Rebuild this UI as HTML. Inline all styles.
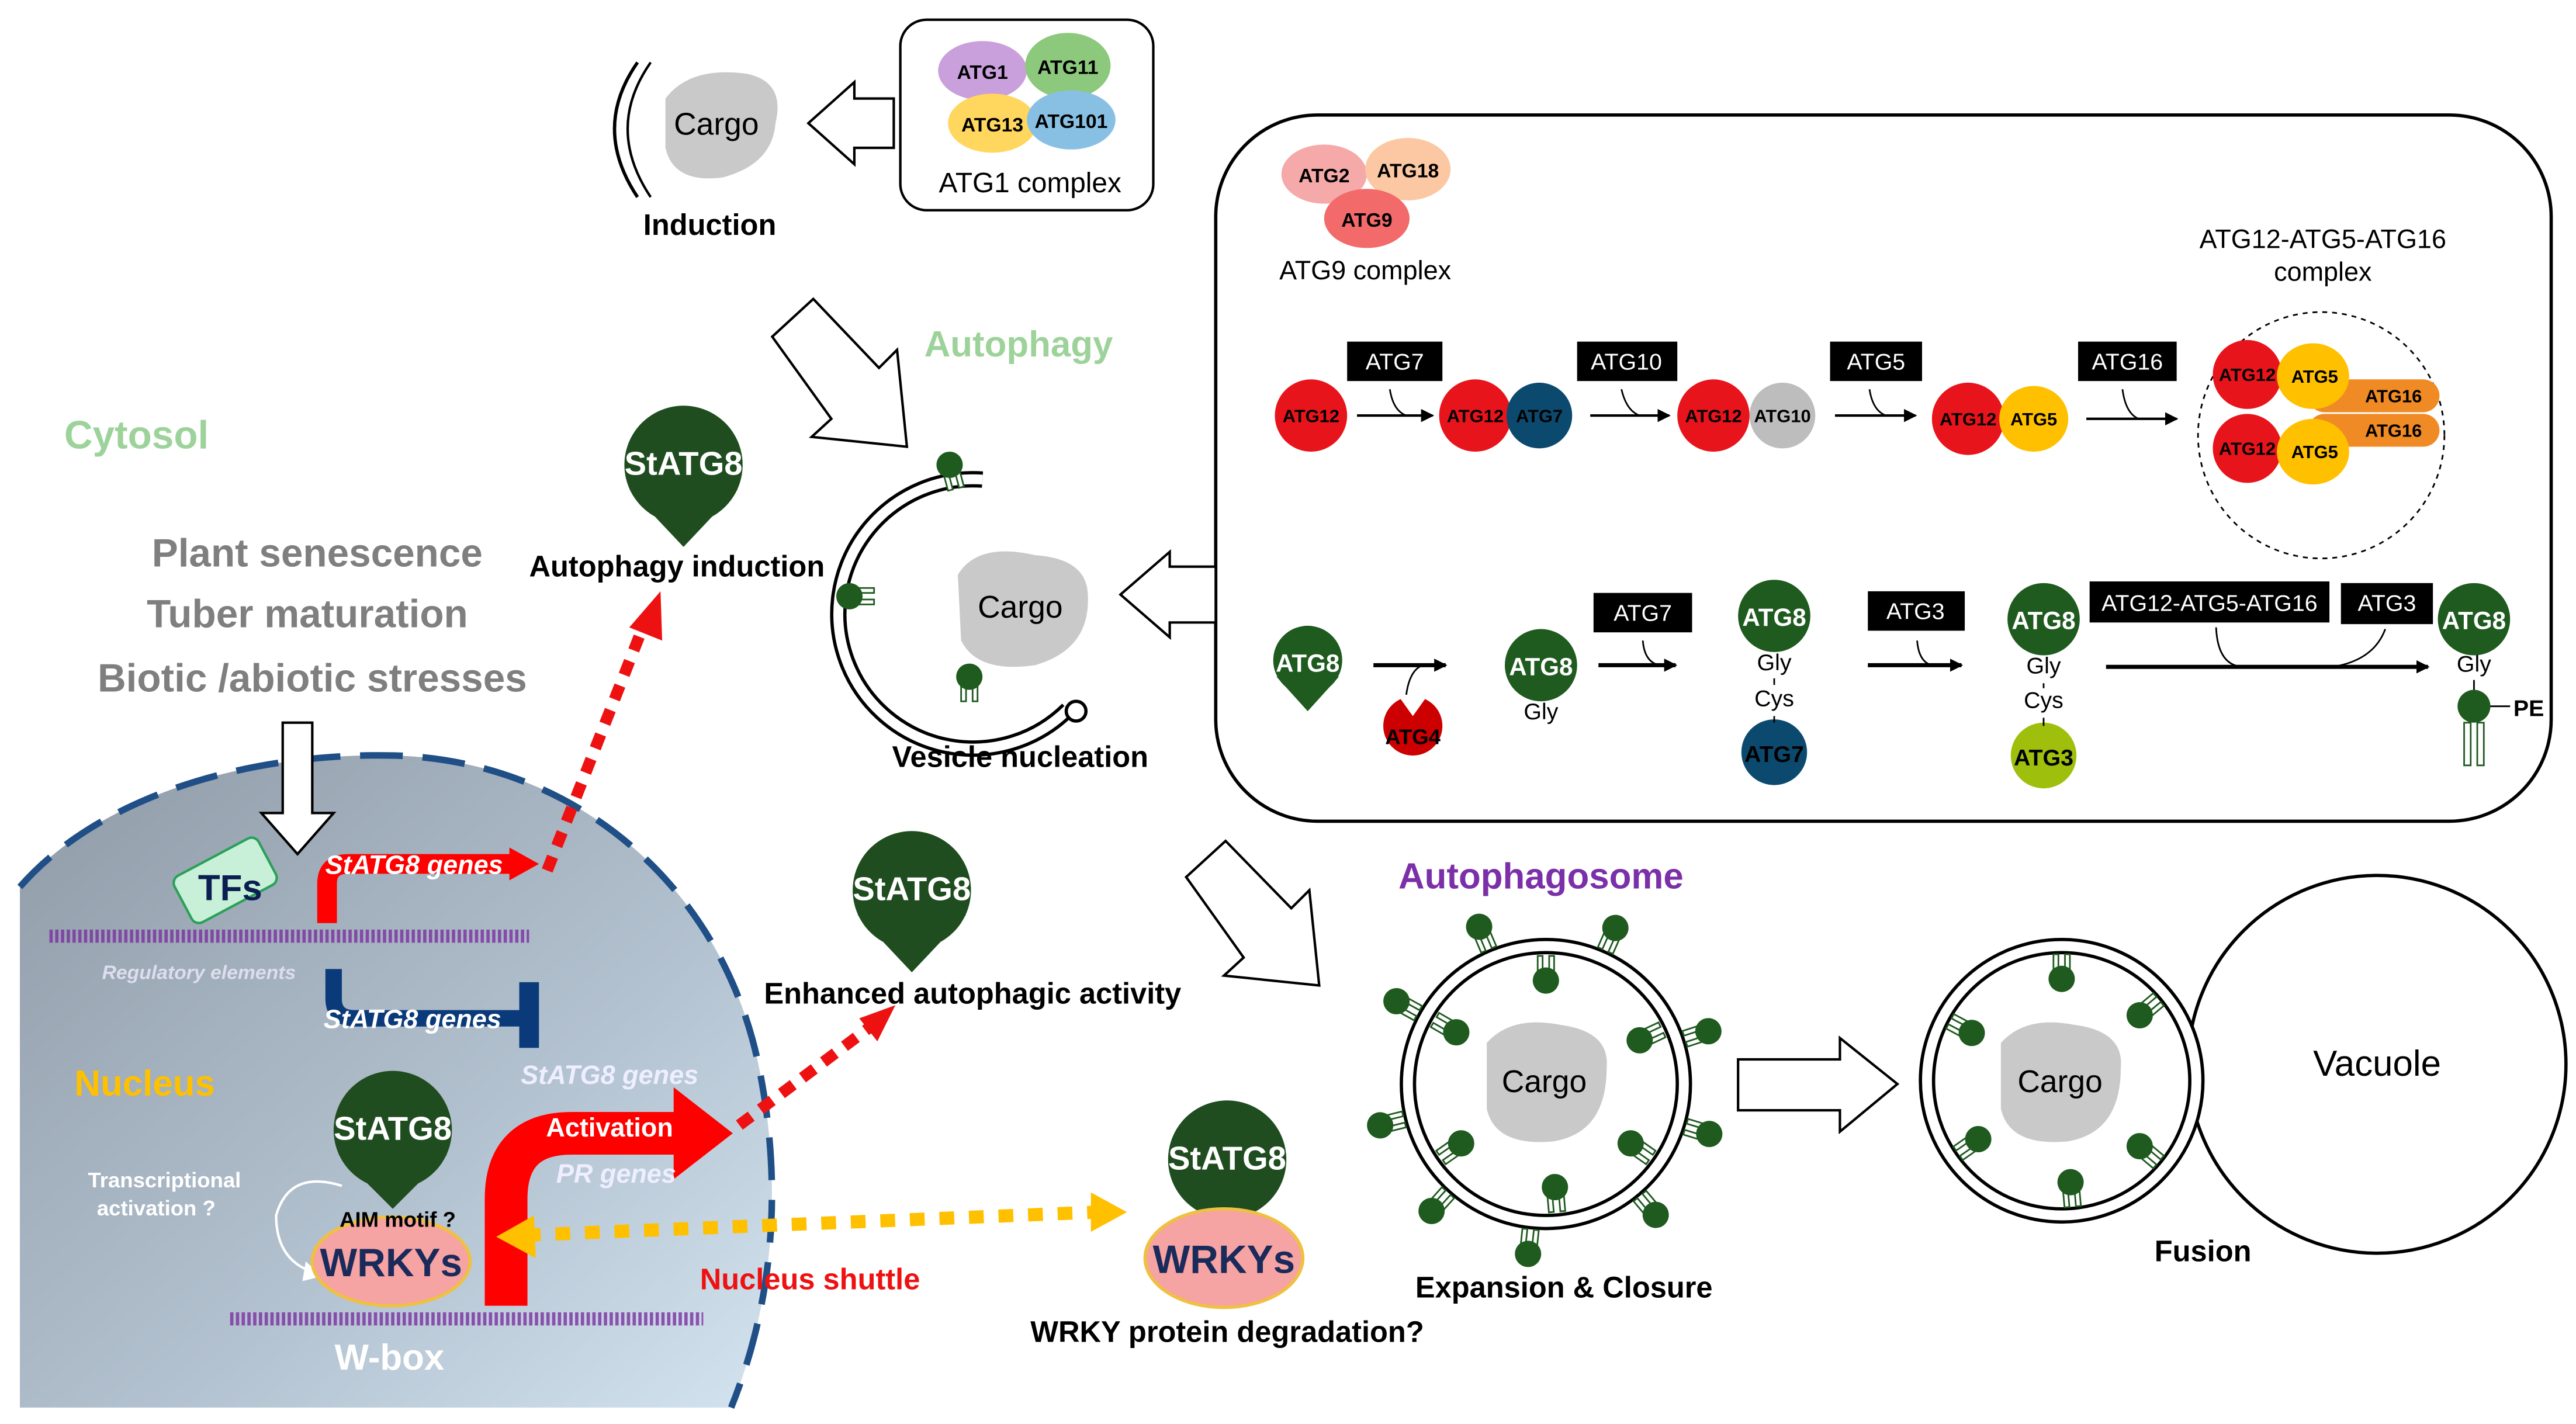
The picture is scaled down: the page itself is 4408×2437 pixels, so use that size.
<!DOCTYPE html>
<html><head><meta charset="utf-8"><style>
html,body{margin:0;padding:0;background:#fff;width:4408px;height:2437px;overflow:hidden;}
svg{display:block;}
text{font-family:"Liberation Sans",Arial,sans-serif;}
</style></head><body>
<svg width="4408" height="2437" viewBox="0 0 1568 867" xmlns="http://www.w3.org/2000/svg">
<defs>
<linearGradient id="ng" x1="0" y1="0" x2="1" y2="1">
<stop offset="0" stop-color="#8f9aa6"/><stop offset="0.6" stop-color="#b3c2d0"/><stop offset="1" stop-color="#d3e3ef"/>
</linearGradient>
<g id="tag"><rect x="-5" y="6" width="3" height="9" fill="#fff" stroke="#1e5a1e" stroke-width="1"/><rect x="2" y="6" width="3" height="9" fill="#fff" stroke="#1e5a1e" stroke-width="1"/><circle cx="0" cy="0" r="8" fill="#1f5a1f"/></g>
<marker id="ah" markerWidth="8" markerHeight="8" refX="7" refY="4" orient="auto" markerUnits="userSpaceOnUse"><path d="M0,0 L8,4 L0,8 z" fill="#000"/></marker>
</defs>

<!-- Nucleus -->
<path d="M12,857 L12,540 C60,485 150,458 240,460 C350,463 440,540 462,650 C478,730 468,800 445,857 Z" fill="url(#ng)"/>
<path d="M12,540 C60,485 150,458 240,460 C350,463 440,540 462,650 C478,730 468,800 445,857" fill="none" stroke="#1f4f86" stroke-width="4" stroke-dasharray="26,12"/>

<!-- top cargo -->
<path d="M388,38 Q360,78 388,120" fill="none" stroke="#000" stroke-width="2"/>
<path d="M396,38 Q368,78 396,120" fill="none" stroke="#000" stroke-width="1.5"/>
<path d="M405,60 Q420,40 455,45 Q478,50 472,75 Q470,100 440,108 Q410,112 405,90 Z" fill="#c9c9c9"/>
<text x="436" y="82" font-size="19" text-anchor="middle">Cargo</text>
<text x="432" y="143" font-size="18" font-weight="bold" text-anchor="middle">Induction</text>
<path d="M544,60 L520,60 L520,50 L492,75 L520,100 L520,90 L544,90 Z" fill="#fff" stroke="#000" stroke-width="1.5"/>

<!-- ATG1 complex -->
<rect x="548" y="12" width="154" height="116" rx="16" fill="#fff" stroke="#000" stroke-width="1.5"/>
<ellipse cx="598" cy="43" rx="27" ry="18" fill="#c9a0dc"/>
<ellipse cx="650" cy="40" rx="26" ry="20" fill="#8cc97c"/>
<ellipse cx="604" cy="75" rx="27" ry="18" fill="#ffd75e"/>
<ellipse cx="652" cy="73" rx="27" ry="18" fill="#88c0e4"/>
<text x="598" y="48" font-size="12" font-weight="bold" text-anchor="middle">ATG1</text>
<text x="650" y="45" font-size="12" font-weight="bold" text-anchor="middle">ATG11</text>
<text x="604" y="80" font-size="12" font-weight="bold" text-anchor="middle">ATG13</text>
<text x="652" y="78" font-size="12" font-weight="bold" text-anchor="middle">ATG101</text>
<text x="627" y="117" font-size="17" text-anchor="middle">ATG1 complex</text>

<!-- big box -->
<rect x="740" y="70" width="813" height="430" rx="62" fill="#fff" stroke="#000" stroke-width="2"/>
<ellipse cx="806" cy="106" rx="26" ry="18" fill="#f5a9a9"/>
<ellipse cx="857" cy="103" rx="26" ry="19" fill="#fcc8a4"/>
<ellipse cx="832" cy="133" rx="26" ry="18" fill="#f26a6a"/>
<text x="806" y="111" font-size="12" font-weight="bold" text-anchor="middle">ATG2</text>
<text x="857" y="108" font-size="12" font-weight="bold" text-anchor="middle">ATG18</text>
<text x="832" y="138" font-size="12" font-weight="bold" text-anchor="middle">ATG9</text>
<text x="831" y="170" font-size="16" text-anchor="middle">ATG9 complex</text>
<text x="1414" y="151" font-size="16" text-anchor="middle">ATG12-ATG5-ATG16</text>
<text x="1414" y="171" font-size="16" text-anchor="middle">complex</text>

<!-- row 1 -->
<g font-size="11" font-weight="bold" text-anchor="middle">
<circle cx="798" cy="253" r="22" fill="#e8141b"/><text x="798" y="257">ATG12</text>
<circle cx="898" cy="253" r="22" fill="#e8141b"/><circle cx="937" cy="253" r="20" fill="#0b4a6e"/>
<text x="898" y="257">ATG12</text><text x="937" y="257">ATG7</text>
<circle cx="1043" cy="253" r="22" fill="#e8141b"/><circle cx="1085" cy="253" r="20" fill="#bdbdbd"/>
<text x="1043" y="257">ATG12</text><text x="1085" y="257">ATG10</text>
<circle cx="1198" cy="255" r="22" fill="#e8141b"/><ellipse cx="1238" cy="255" rx="21" ry="20" fill="#ffc000"/>
<text x="1198" y="259">ATG12</text><text x="1238" y="259">ATG5</text>
</g>
<g fill="#000"><rect x="820" y="208" width="58" height="24"/><rect x="960" y="208" width="61" height="24"/><rect x="1114" y="208" width="56" height="24"/><rect x="1265" y="208" width="60" height="24"/></g>
<g fill="#fff" font-size="14" text-anchor="middle"><text x="849" y="225">ATG7</text><text x="990" y="225">ATG10</text><text x="1142" y="225">ATG5</text><text x="1295" y="225">ATG16</text></g>
<g stroke="#000" stroke-width="1.5" fill="none" marker-end="url(#ah)">
<path d="M826,253 L872,253"/><path d="M968,253 L1016,253"/><path d="M1117,253 L1166,253"/><path d="M1270,255 L1325,255"/>
</g>
<g stroke="#000" stroke-width="1" fill="none">
<path d="M846,237 Q848,250 856,253"/><path d="M987,237 Q990,250 998,253"/><path d="M1138,237 Q1140,250 1148,253"/><path d="M1292,237 Q1294,252 1302,255"/>
</g>
<circle cx="1413" cy="265" r="75" fill="none" stroke="#000" stroke-width="1" stroke-dasharray="3,3"/>
<g font-size="11" font-weight="bold" text-anchor="middle">
<rect x="1405" y="231" width="80" height="20" rx="10" fill="#f08a24"/>
<rect x="1405" y="252" width="80" height="20" rx="10" fill="#f08a24"/>
<circle cx="1368" cy="228" r="21" fill="#e8141b"/><ellipse cx="1408" cy="229" rx="22" ry="20" fill="#ffc000"/>
<circle cx="1368" cy="273" r="21" fill="#e8141b"/><ellipse cx="1408" cy="275" rx="22" ry="20" fill="#ffc000"/>
<text x="1368" y="232">ATG12</text><text x="1409" y="233">ATG5</text>
<text x="1368" y="277">ATG12</text><text x="1409" y="279">ATG5</text>
<text x="1457" y="245">ATG16</text><text x="1457" y="266">ATG16</text>
</g>

<!-- row 2 -->
<g font-size="15" font-weight="bold" text-anchor="middle" fill="#fff">
<circle cx="796" cy="402" r="21" fill="#1f5a1f"/><path d="M777,412 L796,433 L815,412 Z" fill="#1f5a1f"/>
<text x="796" y="409">ATG8</text>
<circle cx="938" cy="405" r="22" fill="#1f5a1f"/><text x="938" y="411">ATG8</text>
<circle cx="1080" cy="375" r="22" fill="#1f5a1f"/><text x="1080" y="381">ATG8</text>
<circle cx="1244" cy="377" r="22" fill="#1f5a1f"/><text x="1244" y="383">ATG8</text>
<circle cx="1506" cy="377" r="22" fill="#1f5a1f"/><text x="1506" y="383">ATG8</text>
</g>
<circle cx="860" cy="442" r="18" fill="#cc0000"/>
<path d="M850,422 L860,436 L870,422 Z" fill="#fff"/>
<text x="860" y="453" font-size="13" font-weight="bold" text-anchor="middle">ATG4</text>
<circle cx="1080" cy="458" r="20" fill="#0b4a6e"/><text x="1080" y="464" font-size="14" font-weight="bold" text-anchor="middle">ATG7</text>
<circle cx="1244" cy="460" r="20" fill="#9fbf0d"/><text x="1244" y="466" font-size="14" font-weight="bold" text-anchor="middle">ATG3</text>
<g font-size="14" text-anchor="middle">
<text x="938" y="438">Gly</text><text x="1080" y="408">Gly</text><text x="1080" y="430">Cys</text>
<text x="1244" y="410">Gly</text><text x="1244" y="431">Cys</text><text x="1506" y="409">Gly</text>
</g>
<g stroke="#000" stroke-width="1"><line x1="1080" y1="413" x2="1080" y2="417"/><line x1="1080" y1="436" x2="1080" y2="440"/><line x1="1244" y1="416" x2="1244" y2="419"/><line x1="1244" y1="437" x2="1244" y2="442"/><line x1="1506" y1="414" x2="1506" y2="422"/></g>
<circle cx="1506" cy="430" r="10" fill="#1f5a1f"/>
<rect x="1500" y="440" width="4" height="26" fill="#fff" stroke="#1f5a1f"/><rect x="1508" y="440" width="4" height="26" fill="#fff" stroke="#1f5a1f"/>
<text x="1530" y="436" font-size="14" font-weight="bold">PE</text><line x1="1516" y1="430" x2="1528" y2="430" stroke="#000"/>
<g fill="#000"><rect x="970" y="361" width="60" height="24"/><rect x="1137" y="360" width="59" height="24"/><rect x="1272" y="354" width="146" height="25"/><rect x="1425" y="355" width="56" height="25"/></g>
<g fill="#fff" font-size="14" text-anchor="middle"><text x="1000" y="378">ATG7</text><text x="1166" y="377">ATG3</text><text x="1345" y="372">ATG12-ATG5-ATG16</text><text x="1453" y="372">ATG3</text></g>
<g stroke="#000" stroke-width="2.5" fill="none" marker-end="url(#ah)">
<path d="M836,405 L880,405"/><path d="M973,405 L1020,405"/><path d="M1137,405 L1194,405"/><path d="M1282,406 L1478,406"/>
</g>
<g stroke="#000" stroke-width="1" fill="none">
<path d="M856,423 Q858,408 866,405"/><path d="M1000,390 Q1001,403 1010,405"/><path d="M1167,390 Q1168,403 1176,405"/>
<path d="M1349,382 Q1350,405 1365,406"/><path d="M1420,406 Q1445,402 1452,383"/>
</g>

<!-- hollow arrows -->
<path d="M740,345 L712,345 L712,336 L682,362 L712,388 L712,379 L740,379 Z" fill="#fff" stroke="#000" stroke-width="1.5"/>
<path d="M470,205 L495,182 L535,224 L546,213 L552,272 L494,266 L506,255 Z" fill="#fff" stroke="#000" stroke-width="1.5"/>
<path d="M722,534 L746,512 L786,553 L797,542 L803,600 L745,594 L757,583 Z" fill="#fff" stroke="#000" stroke-width="1.5"/>
<path d="M1058,645 L1120,645 L1120,632 L1155,660 L1120,689 L1120,676 L1058,676 Z" fill="#fff" stroke="#000" stroke-width="1.5"/>
<path d="M172,440 L190,440 L190,495 L203,495 L181,520 L159,495 L172,495 Z" fill="#fff" stroke="#000" stroke-width="1.5"/>

<!-- vesicle nucleation -->
<path d="M650,432 A82,82 0 1 1 598,292" fill="none" stroke="#000" stroke-width="10"/>
<path d="M650,432 A82,82 0 1 1 598,292" fill="none" stroke="#fff" stroke-width="6"/>
<circle cx="655" cy="433" r="6" fill="#fff" stroke="#000" stroke-width="2"/>
<path d="M583,350 Q595,330 630,338 Q660,340 662,360 Q665,395 630,405 Q595,410 585,390 Z" fill="#c9c9c9"/>
<text x="621" y="376" font-size="19" text-anchor="middle">Cargo</text>
<use href="#tag" transform="translate(578,283) rotate(-15)"/>
<use href="#tag" transform="translate(517,363) rotate(-90)"/>
<use href="#tag" transform="translate(590,412) rotate(0)"/>
<text x="621" y="467" font-size="18" font-weight="bold" text-anchor="middle">Vesicle nucleation</text>

<!-- labels -->
<text x="620" y="217" font-size="22" font-weight="bold" fill="#9dd39a" text-anchor="middle">Autophagy</text>
<text x="83" y="273" font-size="24" font-weight="bold" fill="#9dd39a" text-anchor="middle">Cytosol</text>
<g font-size="24" font-weight="bold" fill="#7f7f7f" text-anchor="middle">
<text x="193" y="345">Plant senescence</text><text x="187" y="382">Tuber maturation</text><text x="190" y="421">Biotic /abiotic stresses</text>
</g>
<!-- StATG8 drops -->
<g fill="#1f4d1f">
<circle cx="416" cy="283" r="36"/><path d="M383,298 L416,333 L449,298 Z"/>
<circle cx="555" cy="542" r="36"/><path d="M522,557 L555,592 L588,557 Z"/>
<circle cx="239" cy="688" r="36"/><path d="M206,703 L239,736 L272,703 Z"/>
<circle cx="747" cy="706" r="36"/>
</g>
<g fill="#fff" font-size="20" font-weight="bold" text-anchor="middle">
<text x="416" y="289">StATG8</text><text x="555" y="548">StATG8</text><text x="239" y="694">StATG8</text><text x="747" y="712">StATG8</text>
</g>
<text x="412" y="351" font-size="18" font-weight="bold" text-anchor="middle">Autophagy induction</text>
<text x="592" y="611" font-size="18" font-weight="bold" text-anchor="middle">Enhanced autophagic activity</text>
<ellipse cx="745" cy="766" rx="48" ry="30" fill="#f5a3a3" stroke="#f0c040" stroke-width="2"/>
<text x="745" y="775" font-size="24" font-weight="bold" fill="#1a2a5a" text-anchor="middle">WRKYs</text>
<text x="747" y="817" font-size="18" font-weight="bold" text-anchor="middle">WRKY protein degradation?</text>
<text x="493" y="785" font-size="18" font-weight="bold" fill="#ee1111" text-anchor="middle">Nucleus shuttle</text>

<!-- nucleus interior -->
<g stroke="#7a2fa0" fill="none">
<path d="M30,570 L322,570" stroke-dasharray="2,1.5" stroke-width="8" stroke-opacity="0.8"/>
<path d="M140,803 L428,803" stroke-dasharray="2,1.5" stroke-width="8" stroke-opacity="0.8"/>
</g>
<rect x="108" y="520" width="58" height="32" rx="5" fill="#c8f0d8" stroke="#2aa058" stroke-width="1.5" transform="rotate(-28,137,536)"/>
<text x="140" y="548" font-size="22" font-weight="bold" fill="#0a1e50" text-anchor="middle">TFs</text>
<path d="M199,562 L199,538 Q199,526 212,526 L312,526" fill="none" stroke="#ff0000" stroke-width="12"/>
<path d="M310,516 L328,526 L310,536 Z" fill="#ff0000"/>
<text x="252" y="532" font-size="16" font-weight="bold" font-style="italic" fill="#fff" text-anchor="middle">StATG8 genes</text>
<path d="M203,590 L203,608 Q203,620 216,620 L322,620" fill="none" stroke="#0a3a7a" stroke-width="10"/>
<rect x="316" y="598" width="12" height="40" fill="#0a3a7a"/>
<text x="251" y="626" font-size="16" font-weight="bold" font-style="italic" fill="#fff" text-anchor="middle">StATG8 genes</text>
<text x="121" y="596" font-size="12" font-weight="bold" font-style="italic" fill="#dde" text-anchor="middle">Regulatory elements</text>
<text x="88" y="667" font-size="22" font-weight="bold" fill="#ffc000" text-anchor="middle">Nucleus</text>
<text x="371" y="660" font-size="16" font-weight="bold" font-style="italic" fill="#eef" text-anchor="middle">StATG8 genes</text>
<path d="M308,795 L308,730 Q308,690 348,690 L412,690" fill="none" stroke="#ff0000" stroke-width="26"/>
<path d="M410,662 L446,690 L410,718 Z" fill="#ff0000"/>
<text x="371" y="692" font-size="16" font-weight="bold" fill="#fff" text-anchor="middle">Activation</text>
<text x="375" y="720" font-size="16" font-weight="bold" font-style="italic" fill="#eef" text-anchor="middle">PR genes</text>
<text x="100" y="723" font-size="13" font-weight="bold" fill="#fff" text-anchor="middle">Transcriptional</text>
<text x="95" y="740" font-size="13" font-weight="bold" fill="#fff" text-anchor="middle">activation ?</text>
<path d="M208,722 Q176,712 168,740 Q168,768 192,775" fill="none" stroke="#fff" stroke-width="1.5"/>
<path d="M186,768 L196,777 L184,780 Z" fill="#fff"/>
<ellipse cx="238" cy="768" rx="48" ry="27" fill="#f5a3a3" stroke="#f0c040" stroke-width="2"/>
<text x="242" y="747" font-size="13" font-weight="bold" text-anchor="middle">AIM motif ?</text>
<text x="238" y="777" font-size="24" font-weight="bold" fill="#1a2a5a" text-anchor="middle">WRKYs</text>
<text x="237" y="834" font-size="22" font-weight="bold" fill="#fff" text-anchor="middle">W-box</text>

<!-- dotted arrows -->
<path d="M333,530 L392,380" stroke="#ee1111" stroke-width="7" stroke-dasharray="9,7" fill="none"/>
<path d="M383,382 L402,360 L403,390 Z" fill="#ee1111"/>
<path d="M450,685 L530,625" stroke="#ee1111" stroke-width="7" stroke-dasharray="9,7" fill="none"/>
<path d="M523,620 L545,612 L534,634 Z" fill="#ee1111"/>
<path d="M320,752 L668,738" stroke="#ffc000" stroke-width="8" stroke-dasharray="9,9" fill="none"/>
<path d="M302,753 L325,740 L326,766 Z" fill="#ffc000"/>
<path d="M686,738 L664,726 L664,750 Z" fill="#ffc000"/>

<!-- Autophagosome -->
<text x="938" y="541" font-size="22" font-weight="bold" fill="#7b2fa8" text-anchor="middle">Autophagosome</text>
<circle cx="941" cy="660" r="88" fill="none" stroke="#000" stroke-width="2"/>
<circle cx="941" cy="660" r="80" fill="none" stroke="#000" stroke-width="2"/>
<path d="M905,635 Q920,618 950,624 Q980,628 978,650 Q978,690 945,695 Q910,698 905,675 Z" fill="#c9c9c9"/>
<text x="940" y="665" font-size="19" text-anchor="middle">Cargo</text>
<g>
<use href="#tag" transform="translate(941,660) rotate(-23) translate(0,-104)"/>
<use href="#tag" transform="translate(941,660) rotate(24) translate(0,-104)"/>
<use href="#tag" transform="translate(941,660) rotate(72) translate(0,-104)"/>
<use href="#tag" transform="translate(941,660) rotate(107) translate(0,-104)"/>
<use href="#tag" transform="translate(941,660) rotate(140) translate(0,-104)"/>
<use href="#tag" transform="translate(941,660) rotate(186) translate(0,-104)"/>
<use href="#tag" transform="translate(941,660) rotate(222) translate(0,-104)"/>
<use href="#tag" transform="translate(941,660) rotate(256) translate(0,-104)"/>
<use href="#tag" transform="translate(941,660) rotate(299) translate(0,-104)"/>
<use href="#tag" transform="translate(941,660) rotate(0) translate(0,-63) rotate(180)"/>
<use href="#tag" transform="translate(941,660) rotate(-60) translate(0,-63) rotate(180)"/>
<use href="#tag" transform="translate(941,660) rotate(-125) translate(0,-63) rotate(180)"/>
<use href="#tag" transform="translate(941,660) rotate(175) translate(0,-63) rotate(180)"/>
<use href="#tag" transform="translate(941,660) rotate(125) translate(0,-63) rotate(180)"/>
<use href="#tag" transform="translate(941,660) rotate(65) translate(0,-63) rotate(180)"/>
</g>
<text x="952" y="790" font-size="18" font-weight="bold" text-anchor="middle">Expansion &amp; Closure</text>

<!-- Fusion -->
<circle cx="1447" cy="648" r="115" fill="#fff" stroke="#000" stroke-width="2"/>
<circle cx="1255" cy="658" r="86" fill="#fff" stroke="#000" stroke-width="2"/>
<circle cx="1255" cy="658" r="78" fill="#fff" stroke="#000" stroke-width="2"/>
<text x="1447" y="655" font-size="22" text-anchor="middle">Vacuole</text>
<path d="M1218,635 Q1233,618 1263,624 Q1293,628 1291,650 Q1291,690 1258,695 Q1223,698 1218,675 Z" fill="#c9c9c9"/>
<text x="1254" y="665" font-size="19" text-anchor="middle">Cargo</text>
<use href="#tag" transform="translate(1255,658) rotate(0) translate(0,-62) rotate(180)"/>
<use href="#tag" transform="translate(1255,658) rotate(50) translate(0,-62) rotate(180)"/>
<use href="#tag" transform="translate(1255,658) rotate(-62) translate(0,-62) rotate(180)"/>
<use href="#tag" transform="translate(1255,658) rotate(-125) translate(0,-62) rotate(180)"/>
<use href="#tag" transform="translate(1255,658) rotate(175) translate(0,-62) rotate(180)"/>
<use href="#tag" transform="translate(1255,658) rotate(130) translate(0,-62) rotate(180)"/>
<text x="1341" y="768" font-size="18" font-weight="bold" text-anchor="middle">Fusion</text>
</svg>
</body></html>
